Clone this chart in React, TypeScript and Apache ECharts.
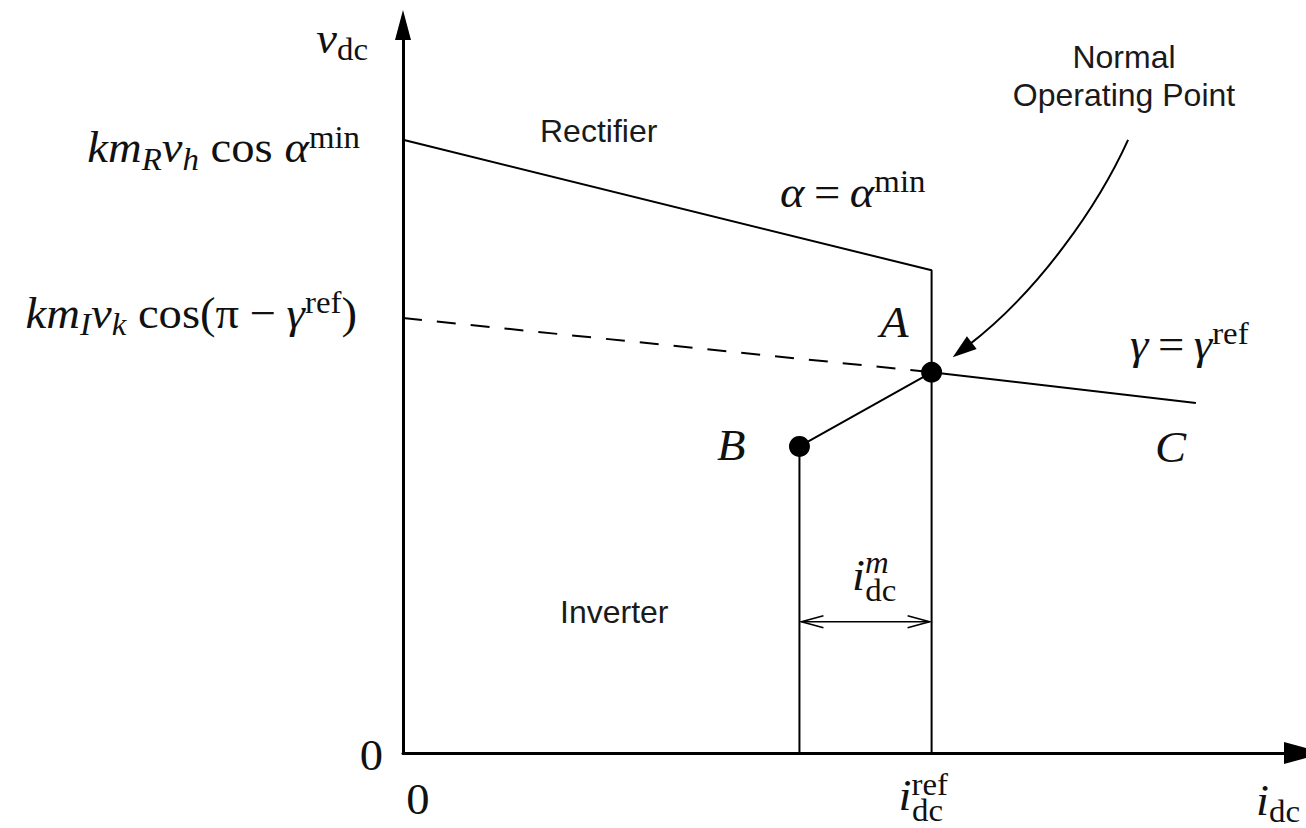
import React, { useEffect, useRef } from 'react';
import * as echarts from 'echarts';

// HVDC static characteristics on a per-unit grid (x: dc current, y: dc voltage, both 0..100)
const rectifierCurve = [[0, 86.0], [60, 67.7], [60, 0]];
const gammaDashed = [[0, 61.0], [60, 53.4]];
const gammaSolid = [[60, 53.4], [90, 49.1]];
const currentMarginCurve = [[45, 0], [45, 43.0], [60, 53.4]];
const operatingPoints = [[60, 53.4], [45, 43.0]]; // A, B
const marginSpan = [[45, 60, 18.4]]; // x from, x to, y of the i_dc^m dimension arrow
const pointerCurve = [[82.3, 86.0, 79.0, 77.0, 72.3, 64.9, 62.4, 55.5]]; // cubic bezier P0..P3

const xTickValues = [0, 60];
const yTickValues = [0, 61.0, 86.0];

// rich-text math labels; a zero-advance superscript token (ref0 / m0) stacks over the subscript that follows
const xTickLabels = ['{r|0}', '{a|i}{ref0|ref}{sd|dc}'];
const yTickLabels = [
  '{r|0}',
  '{a|km}{si|I}{a|v}{si|k}{r| cos(π}{bin|−}{a|γ}{p|ref}{r|)}',
  '{a|km}{si|R}{a|v}{si|h}{r| cos }{a|α}{p|min}',
];
const yAxisName = '{a|v}{s|dc}';
const xAxisName = '{a|i}{s|dc}';

const SERIF = '"Liberation Serif", "Times New Roman", serif';
const SANS = '"Liberation Sans", Arial, Helvetica, sans-serif';
const INK = '#111';

const mathRich = {
  a: { fontFamily: SERIF, fontSize: 44, fontStyle: 'italic', fill: INK },
  r: { fontFamily: SERIF, fontSize: 44, fill: INK },
  s: { fontFamily: SERIF, fontSize: 31, fill: INK, padding: [23, 0, 0, 0] },
  si: { fontFamily: SERIF, fontSize: 31, fontStyle: 'italic', fill: INK, padding: [23, 0, 0, 0] },
  sd: { fontFamily: SERIF, fontSize: 31, fill: INK, padding: [31, 0, 0, 0] },
  p: { fontFamily: SERIF, fontSize: 31, fill: INK, padding: [0, 0, 21, 0] },
  ref0: { fontFamily: SERIF, fontSize: 31, fill: INK, padding: [0, -34, 21, 0] },
  m0: { fontFamily: SERIF, fontSize: 31, fontStyle: 'italic', fill: INK, padding: [0, -22, 25, 0] },
  eq: { fontFamily: SERIF, fontSize: 44, fill: INK, padding: [0, 9, 0, 9] },
  bin: { fontFamily: SERIF, fontSize: 44, fill: INK, padding: [0, 10, 0, 10] },
};

const MATH_STRETCH = 1.06;

function mathText(text: string, x: number, y: number, align = 'left') {
  return {
    type: 'text',
    x,
    y,
    scaleX: MATH_STRETCH,
    silent: true,
    style: {
      text,
      rich: mathRich,
      fill: INK,
      fontFamily: SERIF,
      fontSize: 44,
      align,
      verticalAlign: 'middle',
    },
  };
}

function sansText(text: string, x: number, y: number, align = 'left') {
  return {
    type: 'text',
    x,
    y,
    silent: true,
    style: {
      text,
      fill: '#1a1a1a',
      fontFamily: SANS,
      fontSize: 32,
      align,
      verticalAlign: 'middle',
    },
  };
}

function buildOption() {
  const line = (data: number[][], type: any = 'solid') => ({
    type: 'line',
    data,
    symbol: 'none',
    silent: true,
    lineStyle: { color: '#000', width: 2, type, opacity: 1 },
    z: 3,
  });
  return {
    animation: false,
    backgroundColor: '#fff',
    grid: { left: 403, right: 22, top: 40, bottom: 75, containLabel: false },
    xAxis: {
      type: 'value',
      min: 0,
      max: 100,
      axisLine: {
        show: true,
        onZero: false,
        lineStyle: { color: '#000', width: 3 },
        symbol: ['none', 'triangle'],
        symbolSize: [22, 40],
        symbolOffset: [0, 20],
      },
      axisTick: { show: false },
      axisLabel: { show: false },
      splitLine: { show: false },
    },
    yAxis: {
      type: 'value',
      min: 0,
      max: 100,
      axisLine: {
        show: true,
        onZero: false,
        lineStyle: { color: '#000', width: 3 },
        symbol: ['none', 'triangle'],
        symbolSize: [16, 30],
        symbolOffset: [0, 15],
      },
      axisTick: { show: false },
      axisLabel: { show: false },
      splitLine: { show: false },
    },
    series: [
      line(rectifierCurve),
      line(gammaDashed, [19, 15]),
      line(gammaSolid),
      line(currentMarginCurve),
      {
        type: 'scatter',
        data: operatingPoints,
        symbol: 'circle',
        symbolSize: 21,
        silent: true,
        itemStyle: { color: '#000', opacity: 1 },
        z: 5,
      },
      {
        type: 'custom',
        data: marginSpan,
        silent: true,
        z: 4,
        renderItem: (_params: any, api: any) => {
          const p1 = api.coord([api.value(0), api.value(2)]);
          const p2 = api.coord([api.value(1), api.value(2)]);
          const L = 22;
          const h = 6;
          const st = { stroke: '#000', lineWidth: 1.6, fill: null };
          return {
            type: 'group',
            children: [
              { type: 'line', shape: { x1: p1[0] + 2, y1: p1[1], x2: p2[0] - 2, y2: p2[1] }, style: st },
              {
                type: 'polyline',
                shape: { points: [[p1[0] + 2 + L, p1[1] - h], [p1[0] + 2, p1[1]], [p1[0] + 2 + L, p1[1] + h]] },
                style: st,
              },
              {
                type: 'polyline',
                shape: { points: [[p2[0] - 2 - L, p2[1] - h], [p2[0] - 2, p2[1]], [p2[0] - 2 - L, p2[1] + h]] },
                style: st,
              },
            ],
          };
        },
      },
      {
        type: 'custom',
        data: pointerCurve,
        silent: true,
        z: 4,
        renderItem: (_params: any, api: any) => {
          const P = [0, 1, 2, 3].map((i) => api.coord([api.value(2 * i), api.value(2 * i + 1)]));
          const dx = P[3][0] - P[2][0];
          const dy = P[3][1] - P[2][1];
          const len = Math.hypot(dx, dy) || 1;
          const ux = dx / len;
          const uy = dy / len;
          const headLen = 24;
          const headHalf = 8;
          const bx = P[3][0] - ux * headLen;
          const by = P[3][1] - uy * headLen;
          return {
            type: 'group',
            children: [
              {
                type: 'bezierCurve',
                shape: {
                  x1: P[0][0], y1: P[0][1],
                  cpx1: P[1][0], cpy1: P[1][1],
                  cpx2: P[2][0], cpy2: P[2][1],
                  x2: bx + ux * 4, y2: by + uy * 4,
                },
                style: { stroke: '#000', lineWidth: 2, fill: null },
              },
              {
                type: 'polygon',
                shape: {
                  points: [
                    [P[3][0], P[3][1]],
                    [bx - uy * headHalf, by + ux * headHalf],
                    [bx + uy * headHalf, by - ux * headHalf],
                  ],
                },
                style: { fill: '#000', stroke: null },
              },
            ],
          };
        },
      },
    ],
  };
}

// placement of tick labels relative to their tick positions (pixels)
const xTickLayout = [
  { dx: 15, dy: 46, align: 'center' },
  { dx: -33, dy: 42, align: 'left' },
];
const yTickLayout = [
  { dx: -20, dy: 2 },
  { dx: -46, dy: -5 },
  { dx: -43, dy: 8 },
];

function buildGraphics(toPx: (v: number[]) => number[]) {
  const els: any[] = [];
  xTickValues.forEach((v, i) => {
    const p = toPx([v, 0]);
    const lay = xTickLayout[i];
    els.push(mathText(xTickLabels[i], p[0] + lay.dx, p[1] + lay.dy, lay.align));
  });
  yTickValues.forEach((v, i) => {
    const p = toPx([0, v]);
    const lay = yTickLayout[i];
    els.push(mathText(yTickLabels[i], p[0] + lay.dx, p[1] + lay.dy, 'right'));
  });
  // axis names
  els.push(mathText(yAxisName, 368, 38, 'right'));
  els.push(mathText(xAxisName, 1256, 800, 'left'));
  // curve annotations
  els.push(mathText('{a|α}{eq|=}{a|α}{p|min}', 780, 192));
  els.push(mathText('{a|γ}{eq|=}{a|γ}{p|ref}', 1130, 344));
  els.push(mathText('{a|A}', 880, 322));
  els.push(mathText('{a|B}', 717, 445));
  els.push(mathText('{a|C}', 1155, 447));
  els.push(mathText('{a|i}{m0|m}{sd|dc}', 852, 575));
  els.push(sansText('Rectifier', 540, 131));
  els.push(sansText('Inverter', 560, 612));
  els.push(sansText('Normal', 1124, 57, 'center'));
  els.push(sansText('Operating Point', 1124, 95, 'center'));
  return els;
}

export default function App() {
  const ref = useRef<HTMLDivElement>(null);
  useEffect(() => {
    const chart = echarts.init(ref.current as HTMLDivElement, null, { renderer: 'svg' });
    chart.setOption(buildOption() as any);
    const toPx = (v: number[]) => chart.convertToPixel({ gridIndex: 0 }, v) as unknown as number[];
    chart.setOption({ graphic: buildGraphics(toPx) } as any);
    return () => chart.dispose();
  }, []);
  return (
    <div
      ref={ref}
      style={{ position: 'absolute', left: 0, top: 0, width: 1306, height: 828, background: '#fff' }}
    />
  );
}
